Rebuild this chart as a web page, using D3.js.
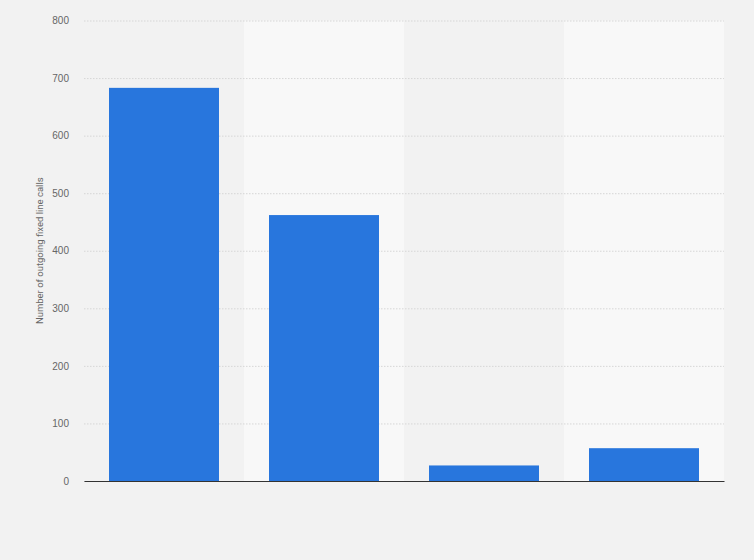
<!DOCTYPE html>
<html>
<head>
<meta charset="utf-8">
<script src="https://cdn.jsdelivr.net/npm/d3@7"></script>
<style>
  body { margin: 0; background: #f2f2f2; }
  svg { display: block; font-family: Roboto, Arial, sans-serif; }
</style>
</head>
<body>
<svg id="svg" width="754" height="560"></svg>
<script>
// data (category labels are not shown in the picture)
const categories = ['A', 'B', 'C', 'D']
const calls = [683, 462, 27, 57]
const yTicks = [0, 100, 200, 300, 400, 500, 600, 700, 800]

const margin = { top: 20.5, right: 30, bottom: 79, left: 84 }
const width = 754 - (margin.left + margin.right)
const height = 560 - (margin.top + margin.bottom)

const svg = d3.select('#svg')
const g = svg.append('g')
  .attr('transform', `translate(${margin.left}, ${margin.top})`)

// x scale
const xscale = d3.scaleBand()
  .domain(categories)
  .range([0, width])
  .paddingInner(0.3125)
  .paddingOuter(0.15625)

// band behind each category
const bandScale = d3.scaleBand()
  .domain(categories)
  .range([0, width])

// y scale
const yscale = d3.scaleLinear()
  .domain([0, 800])
  .range([height, 0])

// alternating background stripes
g.append('g')
  .selectAll('rect')
  .data(categories)
  .enter()
  .append('rect')
  .attr('x', d => bandScale(d))
  .attr('y', 0)
  .attr('width', bandScale.bandwidth())
  .attr('height', height)
  .attr('fill', (d, i) => i % 2 ? '#f8f8f8' : '#f2f2f2')

// grid lines + tick labels
const leftAxis = d3.axisLeft(yscale)
  .tickValues(yTicks)
  .tickSize(-width)
  .tickPadding(15)

const yAxis = g.append('g').call(leftAxis)
yAxis.select('.domain').remove()
yAxis.selectAll('.tick line')
  .attr('stroke', '#d6d6d6')
  .attr('stroke-dasharray', '1.5,1.5')
yAxis.selectAll('.tick text')
  .attr('fill', '#666')
  .attr('font-size', 10)

// bars
g.append('g')
  .selectAll('rect')
  .data(calls)
  .enter()
  .append('rect')
  .attr('x', (d, i) => xscale(categories[i]))
  .attr('y', d => yscale(d))
  .attr('width', xscale.bandwidth())
  .attr('height', d => height - yscale(d))
  .attr('fill', '#2876dd')

// baseline
const bottomAxis = d3.axisBottom(xscale).tickSize(0).tickFormat('')
const xAxis = g.append('g')
  .attr('transform', `translate(0, ${height})`)
  .call(bottomAxis)
xAxis.select('.domain')
  .attr('stroke', '#333')
  .attr('stroke-width', 1.2)

// y axis title
svg.append('text')
  .attr('transform', `translate(43, ${margin.top + height / 2}) rotate(-90)`)
  .attr('text-anchor', 'middle')
  .attr('fill', '#666')
  .attr('font-size', 9.5)
  .text('Number of outgoing fixed line calls')
</script>
</body>
</html>
